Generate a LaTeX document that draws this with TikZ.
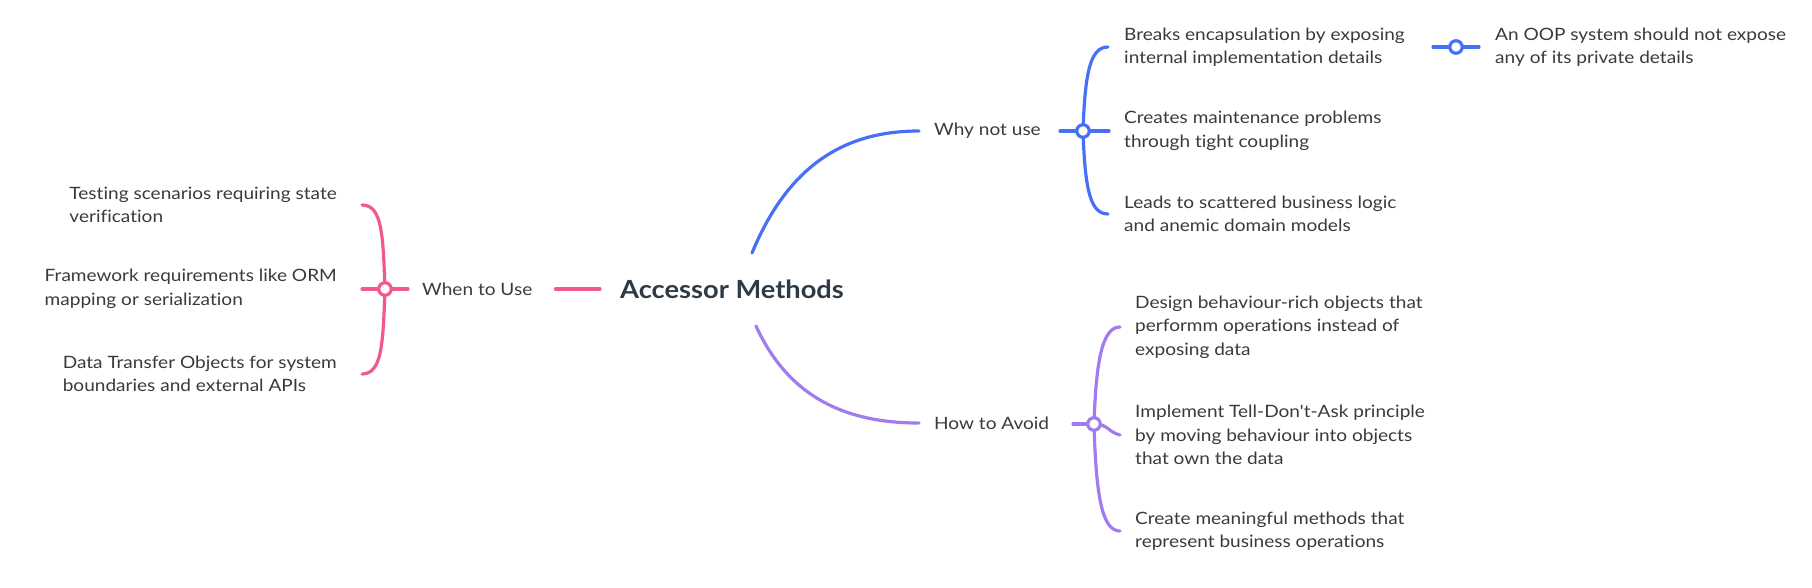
\documentclass[tikz,border=0pt]{standalone}
\usepackage{fontspec}
\setmainfont{Lato}[FakeStretch=1.12, Ligatures={TeXOff,CommonOff}]
\newfontfamily\rootfont{Lato}[FakeStretch=1.09, Ligatures={TeXOff,CommonOff}]
\usetikzlibrary{backgrounds}
\definecolor{pinkc}{HTML}{F2598A}
\definecolor{bluec}{HTML}{4870F6}
\definecolor{purpc}{HTML}{A17BEF}
\definecolor{txtc}{HTML}{3A3A3A}
\definecolor{rootc}{HTML}{2E3A46}
\begin{document}
\begin{tikzpicture}[x=1pt,y=-1pt,
  txt/.style={font=\fontsize{17}{23.5}\selectfont, align=left, inner sep=0pt, text=txtc},
  rootnode/.style={font=\rootfont\fontsize{25}{28}\selectfont\bfseries, inner sep=0pt, text=rootc},
  circ/.style={circle, draw, line width=3.2pt, fill=white, minimum size=12.5pt, inner sep=0pt},
  lnk/.style={line width=3.2pt, line cap=round}
]
\useasboundingbox (0,0) rectangle (1812,587);
% root
\node[rootnode] (root) at (732,289) {Accessor Methods};
% level 1
\node[txt, anchor=west] (when) at (422,289) {When to Use};
\node[txt, anchor=west] (why) at (934,131) {Why not use};
\node[txt, anchor=west] (how) at (934,423) {How to Avoid};
% circles
\node[circ, draw=pinkc] (cw) at (385,289) {};
\node[circ, draw=bluec] (cy) at (1083,131) {};
\node[circ, draw=purpc] (ch) at (1094,424) {};
\node[circ, draw=bluec] (cb) at (1456,47) {};
% leaves left
\node[txt, anchor=east] (w1) at (337,205) {Testing scenarios requiring state\\verification};
\node[txt, anchor=east] (w2) at (337,289) {Framework requirements like ORM\\mapping or serialization};
\node[txt, anchor=east] (w3) at (337,374) {Data Transfer Objects for system\\boundaries and external APIs};
% leaves why
\node[txt, anchor=west] (b1) at (1124,47) {Breaks encapsulation by exposing\\internal implementation details};
\node[txt, anchor=west] (b2) at (1124,131) {Creates maintenance problems\\through tight coupling};
\node[txt, anchor=west] (b3) at (1124,214) {Leads to scattered business logic\\and anemic domain models};
\node[txt, anchor=west] (b4) at (1495,47) {An OOP system should not expose\\any of its private details};
% leaves how
\node[txt, anchor=west] (p1) at (1135,327) {Design behaviour-rich objects that\\performm operations instead of\\exposing data};
\node[txt, anchor=west] (p2) at (1135,435) {Implement Tell-Don't-Ask principle\\by moving behaviour into objects\\that own the data};
\node[txt, anchor=west] (p3) at (1135,531) {Create meaningful methods that\\represent business operations};
\begin{pgfonlayer}{background}
% pink
\draw[lnk, pinkc] ([xshift=-20pt]root.west) -- ([xshift=23pt]when.east);
\draw[lnk, pinkc] ([xshift=-14pt]when.west) -- (cw.center) -- ([xshift=25pt]w2.east);
\draw[lnk, pinkc] (cw.center) .. controls +(-2,-55) and +(20,0) .. ([xshift=25pt]w1.east);
\draw[lnk, pinkc] (cw.center) .. controls +(-2,55) and +(20,0) .. ([xshift=25pt]w3.east);
% blue
\draw[lnk, bluec] ([shift={(20,-36)}]root.center) .. controls +(38,-92) and +(-70,0) .. ([xshift=-15pt]why.west);
\draw[lnk, bluec] ([xshift=-23pt]cy.center) -- ([xshift=-15pt]b2.west);
\draw[lnk, bluec] (cy.center) .. controls +(2,-58) and +(-18,0) .. ([xshift=-16pt]b1.west);
\draw[lnk, bluec] (cy.center) .. controls +(2,58) and +(-18,0) .. ([xshift=-16pt]b3.west);
\draw[lnk, bluec] ([xshift=-23pt]cb.center) -- ([xshift=-16pt]b4.west);
% purple
\draw[lnk, purpc] ([shift={(24,37)}]root.center) .. controls +(34,74) and +(-70,0) .. ([xshift=-15pt]how.west);
\draw[lnk, purpc] ([xshift=-21pt]ch.center) -- (ch.center);
\draw[lnk, purpc] (ch.center) .. controls +(2,-62) and +(-18,0) .. ([xshift=-15pt]p1.west);
\draw[lnk, purpc] (ch.center) .. controls +(14,0) and +(-12,-3) .. ([xshift=-15pt]p2.west);
\draw[lnk, purpc] (ch.center) .. controls +(2,72) and +(-18,0) .. ([xshift=-15pt]p3.west);
\end{pgfonlayer}
\end{tikzpicture}
\end{document}
